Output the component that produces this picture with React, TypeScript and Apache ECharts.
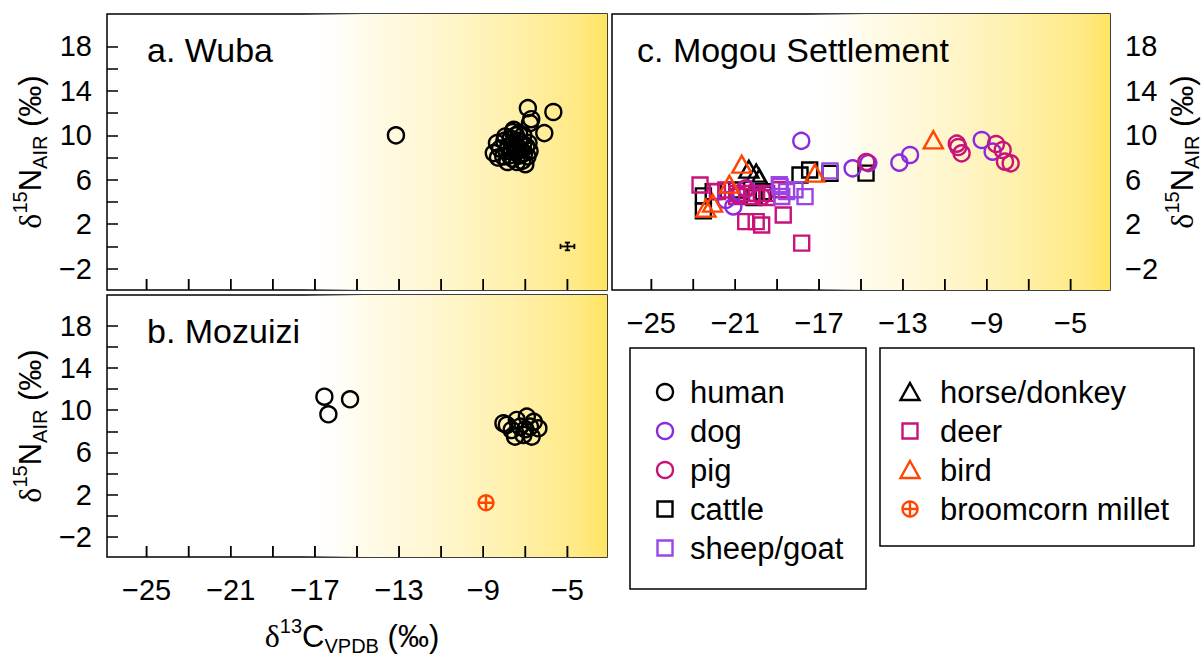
import React, { useEffect, useRef } from "react";
import * as echarts from "echarts";

// ---------- data ----------
const X_MIN = -26.88;
const X_MAX = -3.12;
const Y_MIN = -3.92;
const Y_MAX = 20.92;
const X_TICKS = [-25, -23, -21, -19, -17, -15, -13, -11, -9, -7, -5];
const X_LABELS = [-25, -21, -17, -13, -9, -5];
const Y_TICKS = [-2, 0, 2, 4, 6, 8, 10, 12, 14, 16, 18];
const Y_LABELS = [-2, 2, 6, 10, 14, 18];
const SHADE_START = -17.6;

// a. Wuba
const WUBA_HUMAN = [
  [-13.15, 10.0], [-6.88, 12.45], [-5.67, 12.1], [-6.72, 11.45], [-6.78, 11.1], [-6.1, 10.2], [-7.55, 10.5], [-7.3, 10.2],
  [-8.5, 8.4], [-8.35, 9.3], [-8.2, 8.8], [-8.05, 8.1], [-8.0, 9.5], [-7.9, 8.6], [-7.85, 7.6], [-7.8, 9.0],
  [-7.75, 8.2], [-7.7, 9.7], [-7.65, 8.8], [-7.6, 7.9], [-7.55, 9.3], [-7.5, 8.5], [-7.45, 10.0], [-7.4, 7.6],
  [-7.35, 8.9], [-7.3, 9.5], [-7.25, 8.2], [-7.2, 8.7], [-7.15, 7.7], [-7.1, 9.2], [-7.05, 8.4], [-7.0, 7.4],
  [-6.95, 9.0], [-6.9, 8.1], [-6.85, 9.3], [-6.8, 8.6], [-7.6, 10.3], [-7.95, 9.9], [-8.3, 8.0], [-7.1, 10.0],
];
const WUBA_ERROR = [[-5.0, 0.0, 0.33, 0.35]]; // x, y, sdX, sdY

// b. Mozuizi
const MOZUIZI_HUMAN = [
  [-16.55, 11.28], [-15.33, 11.03], [-16.36, 9.61],
  [-8.04, 8.76], [-7.88, 8.6], [-7.65, 8.12], [-7.49, 7.49], [-7.41, 9.07], [-7.25, 8.44], [-7.09, 7.65],
  [-6.93, 9.39], [-6.78, 8.44], [-6.7, 7.49], [-6.38, 8.28], [-6.6, 8.9], [-7.0, 8.2],
];
const MOZUIZI_MILLET = [[-8.87, 1.23]];

// c. Mogou Settlement
const MOGOU_DOG = [
  [-17.85, 9.5], [-15.4, 7.03], [-14.65, 7.5], [-13.17, 7.54], [-12.66, 8.23], [-9.24, 9.58], [-8.72, 8.53],
  [-21.09, 3.6], [-21.45, 4.18], [-20.45, 5.2],
];
const MOGOU_PIG = [
  [-14.75, 7.6], [-10.43, 9.25], [-10.36, 8.95], [-10.2, 8.38], [-8.56, 9.22], [-8.24, 8.68], [-8.13, 7.63],
  [-7.86, 7.48], [-20.85, 4.63], [-20.53, 5.2], [-19.74, 4.48],
];
const MOGOU_CATTLE = [
  [-22.52, 4.55], [-22.52, 3.2], [-22.05, 4.93], [-20.93, 5.08], [-19.66, 4.93], [-17.91, 6.43], [-17.45, 6.88],
  [-16.48, 6.58], [-14.76, 6.6], [-20.1, 4.4],
];
const MOGOU_SHEEP = [
  [-18.86, 5.38], [-18.55, 4.93], [-18.15, 5.1], [-17.67, 4.48], [-18.78, 4.5], [-16.48, 6.8], [-18.9, 5.55],
];
const MOGOU_HORSE = [[-20.35, 6.95], [-20.0, 6.6], [-19.85, 6.15]];
const MOGOU_DEER = [
  [-22.68, 5.53], [-21.85, 4.95], [-21.45, 5.08], [-20.93, 4.78], [-20.45, 4.78], [-19.98, 4.78], [-19.5, 4.78],
  [-20.93, 4.5], [-20.2, 4.5], [-19.5, 4.4], [-20.5, 2.23], [-20.0, 2.23], [-19.74, 1.93], [-18.71, 2.83],
  [-17.83, 0.3], [-18.86, 5.1],
];
const MOGOU_BIRD = [[-22.4, 3.45], [-22.08, 3.9], [-21.28, 5.6], [-20.69, 7.4], [-17.2, 6.6], [-11.55, 9.6]];

const LEGEND_LEFT = ["human", "dog", "pig", "cattle", "sheep/goat"];
const LEGEND_RIGHT = ["horse/donkey", "deer", "bird", "broomcorn millet"];

// ---------- styles ----------
const FONT = "Liberation Sans, Arial, Helvetica, sans-serif";
const SERIF = "Liberation Serif, DejaVu Serif, serif";
const C_BLACK = "#000000";
const C_DOG = "#8A2BE2";
const C_PIG = "#C8137A";
const C_SHEEP = "#9B45E4";
const C_BIRD = "#FF4500";
const MILLET_PATH = "path://M0,-10 A10,10 0 1,1 0,10 A10,10 0 1,1 0,-10 Z M-10,0 L10,0 M0,-10 L0,10";
const TICK_LEN = 11;

const STYLE: Record<string, { symbol: string; color: string; size: any }> = {
  human: { symbol: "circle", color: C_BLACK, size: 16 },
  dog: { symbol: "circle", color: C_DOG, size: 16 },
  pig: { symbol: "circle", color: C_PIG, size: 16 },
  cattle: { symbol: "rect", color: C_BLACK, size: 15 },
  "sheep/goat": { symbol: "rect", color: C_SHEEP, size: 15 },
  "horse/donkey": { symbol: "triangle", color: C_BLACK, size: [19, 17] },
  deer: { symbol: "rect", color: C_PIG, size: 15 },
  bird: { symbol: "triangle", color: C_BIRD, size: [19, 17] },
  "broomcorn millet": { symbol: MILLET_PATH, color: C_BIRD, size: 15 },
};

const GRIDS = [
  { left: 107, top: 14, width: 500, height: 276 },
  { left: 107, top: 295, width: 500, height: 262 },
  { left: 612, top: 14, width: 498, height: 276 },
];

const fmt = (v: number) => (v < 0 ? "\u2212" + Math.abs(v) : String(v));

function makeX(i: number, showLabels: boolean) {
  return {
    type: "value",
    gridIndex: i,
    position: "bottom",
    min: X_MIN,
    max: X_MAX,
    axisLine: { show: false, onZero: false },
    splitLine: { show: false },
    axisTick: { show: false },
    axisLabel: {
      show: showLabels,
      customValues: X_LABELS,
      formatter: fmt,
      color: "#000",
      fontSize: 29,
      fontFamily: FONT,
      margin: 18,
    },
  };
}

function makeY(i: number, position: string) {
  return {
    type: "value",
    gridIndex: i,
    position,
    min: Y_MIN,
    max: Y_MAX,
    axisLine: { show: false, onZero: false },
    splitLine: { show: false },
    axisTick: { show: true, inside: true, length: TICK_LEN, customValues: Y_TICKS, lineStyle: { color: "#000", width: 1.5 } },
    axisLabel: {
      show: true,
      customValues: Y_LABELS,
      formatter: fmt,
      color: "#000",
      fontSize: 29,
      fontFamily: FONT,
      margin: 15,
    },
  };
}

// x-axis tick marks (inside, pointing up from the bottom edge), drawn through the axis scales
function xTicks(gi: number) {
  return {
    type: "custom",
    xAxisIndex: gi,
    yAxisIndex: gi,
    data: X_TICKS.map((v) => [v, Y_MIN]),
    z: 3,
    renderItem: (params: any, api: any) => {
      const p = api.coord([api.value(0), api.value(1)]);
      const st = { stroke: "#000", lineWidth: 1.5 };
      return {
        type: "group",
        children: [{ type: "line", shape: { x1: p[0], y1: p[1], x2: p[0], y2: p[1] - TICK_LEN }, style: st }],
      };
    },
  };
}

function scatter(name: string, data: number[][], gi: number) {
  const s = STYLE[name];
  return {
    type: "scatter",
    name,
    xAxisIndex: gi,
    yAxisIndex: gi,
    data,
    symbol: s.symbol,
    symbolSize: s.size,
    z: 3,
    itemStyle: { color: "rgba(0,0,0,0)", borderColor: s.color, borderWidth: 2.4, opacity: 1 },
    emphasis: { disabled: true },
  };
}

function shade(gi: number) {
  return {
    type: "scatter",
    xAxisIndex: gi,
    yAxisIndex: gi,
    data: [],
    silent: true,
    z: 1,
    markArea: {
      silent: true,
      itemStyle: {
        color: new echarts.graphic.LinearGradient(0, 0, 1, 0, [
          { offset: 0, color: "rgba(255,255,255,0)" },
          { offset: 0.2, color: "#FFFBEA" },
          { offset: 0.45, color: "#FFF6CE" },
          { offset: 0.7, color: "#FFF0AA" },
          { offset: 0.9, color: "#FFEA86" },
          { offset: 1, color: "#FFE462" },
        ]),
        borderWidth: 0,
      },
      data: [[{ xAxis: SHADE_START }, { xAxis: X_MAX }]],
    },
  };
}

function legendSymbol(name: string, cx: number, cy: number) {
  const s = STYLE[name];
  const st = { fill: "none", stroke: s.color, lineWidth: 2.4 };
  if (s.symbol === "circle") return [{ type: "circle", shape: { cx, cy, r: 8 }, style: st }];
  if (s.symbol === "rect") return [{ type: "rect", shape: { x: cx - 7.5, y: cy - 7.5, width: 15, height: 15 }, style: st }];
  if (s.symbol === "triangle")
    return [{ type: "polygon", shape: { points: [[cx, cy - 9], [cx + 9.5, cy + 8], [cx - 9.5, cy + 8]] }, style: st }];
  return [
    { type: "circle", shape: { cx, cy, r: 7.5 }, style: st },
    { type: "line", shape: { x1: cx - 7.5, y1: cy, x2: cx + 7.5, y2: cy }, style: st },
    { type: "line", shape: { x1: cx, y1: cy - 7.5, x2: cx, y2: cy + 7.5 }, style: st },
  ];
}

function legendBox(names: string[], x: number, y: number, w: number, h: number, symX: number, textX: number) {
  const els: any[] = [
    { type: "rect", shape: { x, y, width: w, height: h }, style: { fill: "#fff", stroke: "#000", lineWidth: 1.5 } },
  ];
  names.forEach((n, i) => {
    const cy = y + 44 + i * 39;
    els.push(...legendSymbol(n, symX, cy));
    els.push({
      type: "text",
      x: textX,
      y: cy,
      style: { text: n, fontSize: 31, fontFamily: FONT, fill: "#000", align: "left", verticalAlign: "middle" },
    });
  });
  return els;
}

const yNameRich = {
  d: { fontFamily: SERIF, fontSize: 32, lineHeight: 40, verticalAlign: "middle" },
  sup: { fontFamily: FONT, fontSize: 20, lineHeight: 20, verticalAlign: "top" },
  n: { fontFamily: FONT, fontSize: 31, lineHeight: 40, verticalAlign: "middle" },
  sub: { fontFamily: FONT, fontSize: 20, lineHeight: 20, verticalAlign: "bottom" },
};

function nameText(x: number, y: number, rotate: boolean, main: string, sup: string, big: string, sub: string) {
  return {
    type: "text",
    x,
    y,
    z: 100,
    rotation: rotate ? Math.PI / 2 : 0,
    style: {
      text: `{d|${main}}{sup|${sup}}{n|${big}}{sub|${sub}}{n| (\u2030)}`,
      rich: yNameRich,
      fill: "#000",
      align: "center",
      verticalAlign: "middle",
    },
  };
}

function title(x: number, y: number, t: string) {
  return {
    type: "text",
    x,
    y,
    z: 100,
    style: { text: t, fontSize: 34, fontFamily: FONT, fill: "#000", align: "left", verticalAlign: "middle" },
  };
}

export default function App() {
  const ref = useRef<HTMLDivElement>(null);
  useEffect(() => {
    if (!ref.current) return;
    const chart = echarts.init(ref.current, undefined, { renderer: "svg" });
    const baseGraphics: any[] = [
      title(147, 50, "a. Wuba"),
      title(147, 331, "b. Mozuizi"),
      title(637, 50, "c. Mogou Settlement"),
      nameText(30, 152, true, "\u03b4", "15", "N", "AIR"),
      nameText(30, 426, true, "\u03b4", "15", "N", "AIR"),
      nameText(1182, 152, true, "\u03b4", "15", "N", "AIR"),
      nameText(352, 636, false, "\u03b4", "13", "C", "VPDB"),
      ...legendBox(LEGEND_LEFT, 630, 348, 236, 241, 665, 690),
      ...legendBox(LEGEND_RIGHT, 880, 348, 314, 198, 910, 940),
    ];
    const option: any = {
      animation: false,
      backgroundColor: "#ffffff",
      grid: GRIDS.map((g) => ({ ...g, show: true, borderColor: "#000", borderWidth: 1.5, backgroundColor: "transparent" })),
      xAxis: [makeX(0, false), makeX(1, true), makeX(2, true)],
      yAxis: [makeY(0, "left"), makeY(1, "left"), makeY(2, "right")],
      series: [
        shade(0),
        shade(1),
        shade(2),
        scatter("human", WUBA_HUMAN, 0),
        {
          type: "custom",
          xAxisIndex: 0,
          yAxisIndex: 0,
          data: WUBA_ERROR,
          z: 3,
          renderItem: (params: any, api: any) => {
            const x = api.value(0), y = api.value(1), ex = api.value(2), ey = api.value(3);
            const l = api.coord([x - ex, y]);
            const r = api.coord([x + ex, y]);
            const t = api.coord([x, y + ey]);
            const b = api.coord([x, y - ey]);
            const st = { stroke: "#000", lineWidth: 1.8 };
            const cap = 2.6;
            return {
              type: "group",
              children: [
                { type: "line", shape: { x1: l[0], y1: l[1], x2: r[0], y2: r[1] }, style: st },
                { type: "line", shape: { x1: t[0], y1: t[1], x2: b[0], y2: b[1] }, style: st },
                { type: "line", shape: { x1: l[0], y1: l[1] - cap, x2: l[0], y2: l[1] + cap }, style: st },
                { type: "line", shape: { x1: r[0], y1: r[1] - cap, x2: r[0], y2: r[1] + cap }, style: st },
                { type: "line", shape: { x1: t[0] - cap, y1: t[1], x2: t[0] + cap, y2: t[1] }, style: st },
                { type: "line", shape: { x1: b[0] - cap, y1: b[1], x2: b[0] + cap, y2: b[1] }, style: st },
              ],
            };
          },
        },
        xTicks(0),
        xTicks(1),
        xTicks(2),
        scatter("human", MOZUIZI_HUMAN, 1),
        scatter("broomcorn millet", MOZUIZI_MILLET, 1),
        scatter("cattle", MOGOU_CATTLE, 2),
        scatter("horse/donkey", MOGOU_HORSE, 2),
        scatter("deer", MOGOU_DEER, 2),
        scatter("sheep/goat", MOGOU_SHEEP, 2),
        scatter("dog", MOGOU_DOG, 2),
        scatter("pig", MOGOU_PIG, 2),
        scatter("bird", MOGOU_BIRD, 2),
      ],
      graphic: baseGraphics,
    };
    chart.setOption(option);

    // same tick marks once more as graphic lines placed by the axis scales (overlapping exactly)
    const tickEls: any[] = [];
    GRIDS.forEach((g, gi) => {
      X_TICKS.forEach((v) => {
        const p = chart.convertToPixel({ gridIndex: gi }, [v, Y_MIN]) as number[];
        if (!p || !isFinite(p[0]) || !isFinite(p[1])) return;
        tickEls.push({
          type: "line",
          z: 50,
          shape: { x1: p[0], y1: p[1], x2: p[0], y2: p[1] - TICK_LEN },
          style: { stroke: "#000", lineWidth: 1.5 },
        });
      });
    });
    chart.setOption({ graphic: [...baseGraphics, ...tickEls] });

    return () => chart.dispose();
  }, []);
  return (
    <div
      ref={ref}
      style={{ position: "absolute", left: 0, top: 0, width: 1203, height: 662, background: "#fff" }}
    />
  );
}
